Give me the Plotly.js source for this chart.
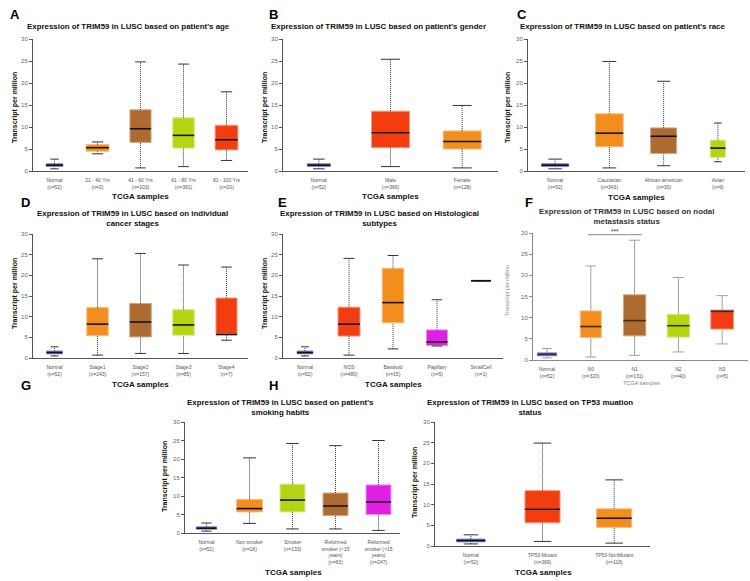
<!DOCTYPE html>
<html><head><meta charset="utf-8">
<script src="https://cdn.plot.ly/plotly-3.0.1.min.js"></script>
<style>html,body{margin:0;padding:0;background:#fff}#chart{width:750px;height:581px}</style>
</head><body><div id="chart"></div><script>
// ---------------- DATA ----------------
const ageCategories = ['Normal<br>(n=52)','21 - 40 Yrs<br>(n=2)','41 - 60 Yrs<br>(n=103)','61 - 80 Yrs<br>(n=361)','81 - 100 Yrs<br>(n=20)'];
const ageLower  = [0.5, 3.9, 0.7, 1.0, 2.4];
const ageQ1     = [1.0, 4.5, 6.5, 5.2, 4.8];
const ageMedian = [1.3, 5.3, 9.6, 8.1, 7.1];
const ageQ3     = [1.7, 6.0, 13.9, 12.1, 10.4];
const ageUpper  = [2.7, 6.6, 24.8, 24.3, 18.0];

const genderCategories = ['Normal<br>(n=52)','Male<br>(n=366)','Female<br>(n=128)'];
const genderLower  = [0.5, 1.0, 0.7];
const genderQ1     = [1.0, 5.3, 5.0];
const genderMedian = [1.3, 8.7, 6.7];
const genderQ3     = [1.7, 13.6, 9.1];
const genderUpper  = [2.7, 25.4, 14.9];

const raceCategories = ['Normal<br>(n=52)','Caucasian<br>(n=343)','African-american<br>(n=30)','Asian<br>(n=9)'];
const raceLower  = [0.5, 0.7, 1.2, 2.1];
const raceQ1     = [1.0, 5.5, 4.0, 3.1];
const raceMedian = [1.3, 8.6, 7.9, 5.2];
const raceQ3     = [1.7, 13.0, 9.8, 7.0];
const raceUpper  = [2.7, 24.9, 20.4, 10.9];

const stageCategories = ['Normal<br>(n=52)','Stage1<br>(n=243)','Stage2<br>(n=157)','Stage3<br>(n=85)','Stage4<br>(n=7)'];
const stageLower  = [0.5, 0.7, 1.1, 1.1, 4.3];
const stageQ1     = [1.0, 5.4, 5.1, 5.5, 5.6];
const stageMedian = [1.3, 8.2, 8.7, 8.0, 5.7];
const stageQ3     = [1.7, 12.2, 13.2, 11.7, 14.5];
const stageUpper  = [2.7, 24.0, 25.3, 22.5, 22.0];

const histCategories = ['Normal<br>(n=52)','NOS<br>(n=480)','Basaloid<br>(n=15)','Papillary<br>(n=5)','SmallCell<br>(n=1)'];
const histLower  = [0.5, 0.7, 2.2, 2.9, 18.7];
const histQ1     = [1.0, 5.3, 8.5, 3.0, 18.7];
const histMedian = [1.3, 8.2, 13.4, 3.9, 18.7];
const histQ3     = [1.7, 12.3, 21.7, 6.8, 18.7];
const histUpper  = [2.7, 24.1, 24.8, 14.1, 18.7];

const nodalCategories = ['Normal<br>(n=52)','N0<br>(n=320)','N1<br>(n=131)','N2<br>(n=40)','N3<br>(n=5)'];
const nodalLower  = [0.5, 0.7, 1.1, 1.9, 3.8];
const nodalQ1     = [1.0, 5.3, 5.7, 5.4, 7.3];
const nodalMedian = [1.3, 7.9, 9.3, 8.1, 11.5];
const nodalQ3     = [1.7, 11.6, 15.4, 10.8, 11.8];
const nodalUpper  = [2.7, 22.2, 28.3, 19.5, 15.2];
const nodalSigPair  = [1, 2];
const nodalSigLabel = '***';

const smokeCategories = ['Normal<br>(n=52)','Non smoker<br>(n=18)','Smoker<br>(n=133)','Reformed<br>smoker (&lt;15<br>years)<br>(n=83)','Reformed<br>smoker (&gt;15<br>years)<br>(n=247)'];
const smokeLower  = [0.5, 2.6, 1.1, 1.1, 0.7];
const smokeQ1     = [1.0, 5.7, 5.7, 4.7, 5.0];
const smokeMedian = [1.3, 6.6, 8.9, 7.3, 8.4];
const smokeQ3     = [1.7, 9.1, 13.2, 10.8, 13.0];
const smokeUpper  = [2.7, 20.3, 24.2, 23.6, 25.0];

const tp53Categories = ['Normal<br>(n=52)','TP53-Mutant<br>(n=369)','TP53-NonMutant<br>(n=118)'];
const tp53Lower  = [0.5, 1.1, 0.7];
const tp53Q1     = [1.0, 5.6, 4.5];
const tp53Median = [1.3, 8.9, 6.7];
const tp53Q3     = [1.7, 13.4, 9.0];
const tp53Upper  = [2.7, 24.9, 16.0];

const yTicks = [0, 5, 10, 15, 20, 25, 30];

// ---------------- STYLE ----------------
const W = 750, H = 581;
const FONT = 'Liberation Sans, Arial, sans-serif';
const PAL = {
  blue:    {fill:'#3442ad', line:'#939ce0'},
  orange:  {fill:'#f28e1e', line:'#f7bf7c'},
  brown:   {fill:'#ad6a31', line:'#d4a57e'},
  lime:    {fill:'#b5d512', line:'#d8eb80'},
  red:     {fill:'#f23d11', line:'#f79b82'},
  magenta: {fill:'#e01fe4', line:'#ef8ef0'},
  none:    {fill:'rgba(0,0,0,0)', line:'#222'}
};

const panels = [
  {lo:ageLower, q1:ageQ1, md:ageMedian, q3:ageQ3, hi:ageUpper, cats:ageCategories,
   colors:['blue','orange','brown','lime','red'], widths:[0.39,0.53,0.49,0.5,0.53],
   px:[33,248], py:[39,171], xr:[-0.5,4.5]},
  {lo:genderLower, q1:genderQ1, md:genderMedian, q3:genderQ3, hi:genderUpper, cats:genderCategories,
   colors:['blue','red','orange'], widths:[0.32,0.53,0.53],
   px:[283,498], py:[39,171], xr:[-0.5,2.5]},
  {lo:raceLower, q1:raceQ1, md:raceMedian, q3:raceQ3, hi:raceUpper, cats:raceCategories,
   colors:['blue','orange','brown','lime'], widths:[0.5,0.51,0.48,0.28],
   px:[528,745], py:[39,171], xr:[-0.5,3.5]},
  {lo:stageLower, q1:stageQ1, md:stageMedian, q3:stageQ3, hi:stageUpper, cats:stageCategories,
   colors:['blue','orange','brown','lime','red'], widths:[0.37,0.5,0.5,0.5,0.49],
   px:[33,248], py:[234,358], xr:[-0.5,4.5]},
  {lo:histLower, q1:histQ1, md:histMedian, q3:histQ3, hi:histUpper, cats:histCategories,
   colors:['blue','red','orange','magenta','none'], widths:[0.36,0.5,0.49,0.48,0.45],
   px:[283,503], py:[234,358], xr:[-0.5,4.5]},
  {lo:nodalLower, q1:nodalQ1, md:nodalMedian, q3:nodalQ3, hi:nodalUpper, cats:nodalCategories,
   colors:['blue','orange','brown','lime','red'], widths:[0.44,0.48,0.51,0.51,0.52],
   px:[533,748], py:[233,360], xr:[-0.32,4.59], solidWhisker:true},
  {lo:smokeLower, q1:smokeQ1, md:smokeMedian, q3:smokeQ3, hi:smokeUpper, cats:smokeCategories,
   colors:['blue','orange','lime','brown','magenta'], widths:[0.47,0.6,0.58,0.58,0.58],
   px:[185,400], py:[422,533], xr:[-0.5,4.5]},
  {lo:tp53Lower, q1:tp53Q1, md:tp53Median, q3:tp53Q3, hi:tp53Upper, cats:tp53Categories,
   colors:['blue','red','orange'], widths:[0.4,0.49,0.49],
   px:[435,650], py:[422,546], xr:[-0.5,2.5]}
];

const traces = [];
const layout = {
  width: W, height: H, margin:{l:0,r:0,t:0,b:0},
  paper_bgcolor:'#fff', plot_bgcolor:'rgba(0,0,0,0)',
  showlegend:false, boxmode:'overlay', font:{family:FONT},
  annotations:[], shapes:[]
};

panels.forEach((p, k) => {
  const sfx = k === 0 ? '' : String(k + 1);
  const xa = 'x' + sfx, ya = 'y' + sfx;
  const idx = p.cats.map((_, i) => i);
  const whiskColor = p.solidWhisker ? '#a0a0a0' : '#3a3a3a';
  const capColor = p.solidWhisker ? '#a0a0a0' : '#333';

  // whiskers
  const wx = [], wy = [];
  idx.forEach(i => {
    wx.push(i, i, null, i, i, null);
    wy.push(p.lo[i], p.q1[i], null, p.q3[i], p.hi[i], null);
  });
  traces.push({type:'scatter', mode:'lines', x:wx, y:wy, xaxis:xa, yaxis:ya,
    line:{color:whiskColor, width:1, dash: p.solidWhisker ? 'solid' : '1px,1px'}, hoverinfo:'skip'});

  // boxes
  idx.forEach(i => {
    const c = PAL[p.colors[i]];
    traces.push({type:'box', x:[i], q1:[p.q1[i]], median:[p.md[i]], q3:[p.q3[i]],
      lowerfence:[p.q1[i]], upperfence:[p.q3[i]], width:p.widths[i], whiskerwidth:0,
      fillcolor:c.fill, line:{color:c.line, width:1}, xaxis:xa, yaxis:ya,
      boxpoints:false, hoverinfo:'skip'});
  });

  // caps
  const cx = [], cy = [];
  idx.forEach(i => {
    const h = p.widths[i] * 0.25;
    cx.push(i - h, i + h, null, i - h, i + h, null);
    cy.push(p.lo[i], p.lo[i], null, p.hi[i], p.hi[i], null);
  });
  traces.push({type:'scatter', mode:'lines', x:cx, y:cy, xaxis:xa, yaxis:ya,
    line:{color:capColor, width:1}, hoverinfo:'skip'});

  // medians
  const mx = [], my = [];
  idx.forEach(i => {
    const h = p.widths[i] / 2;
    mx.push(i - h, i + h, null);
    my.push(p.md[i], p.md[i], null);
  });
  traces.push({type:'scatter', mode:'lines', x:mx, y:my, xaxis:xa, yaxis:ya,
    line:{color: p.solidWhisker ? '#3a2e1e' : '#111', width:1.6}, hoverinfo:'skip'});

  layout['xaxis' + sfx] = {
    domain:[p.px[0]/W, p.px[1]/W], range:p.xr, anchor:ya,
    showline:true, linecolor: p.solidWhisker ? '#8a8a8a' : '#555', linewidth:1,
    showgrid:false, zeroline:false, fixedrange:true,
    tickmode:'array', tickvals:idx, ticktext:p.cats,
    ticks:'outside', ticklen:4, tickcolor:'rgba(0,0,0,0)',
    tickfont:{size:5, color:'#555', family:FONT}
  };
  layout['yaxis' + sfx] = {
    domain:[1 - p.py[1]/H, 1 - p.py[0]/H], range:[0,30], anchor:xa,
    showline:true, linecolor: p.solidWhisker ? '#8a8a8a' : '#555', linewidth:1,
    showgrid:false, zeroline:false, fixedrange:true,
    tickmode:'array', tickvals:yTicks,
    ticks:'outside', ticklen:3, tickcolor: p.solidWhisker ? '#8a8a8a' : '#555',
    tickfont:{size:6, color:'#666', family:FONT}
  };
});

// significance bar in nodal panel
layout.shapes.push({type:'line', xref:'x6', yref:'y6',
  x0:nodalSigPair[0] - 0.07, x1:nodalSigPair[1] + 0.17, y0:29.6, y1:29.6,
  line:{color:'#888', width:1}});
layout.annotations.push({xref:'x6', yref:'y6', x:(nodalSigPair[0] + nodalSigPair[1]) / 2 + 0.05, y:29.6,
  yanchor:'middle', yshift:3.5, text:nodalSigLabel, showarrow:false, font:{size:6.5, color:'#333', family:FONT}});

const P = (x, y) => ({xref:'paper', yref:'paper', x:x/W, y:1 - y/H, xanchor:'center', yanchor:'middle', showarrow:false});
const addText = (x, y, text, font, extra) => layout.annotations.push(Object.assign(P(x, y), {text, font:Object.assign({family:FONT}, font)}, extra || {}));

// panel letters
[['A',14.5,14.5],['B',273,14.5],['C',522,14.5],['D',25,202],['E',282.5,202],['F',529,202],['G',26,385],['H',273,385]]
  .forEach(([t,x,y]) => addText(x, y, '<b>' + t + '</b>', {size:13, color:'#000'}));

// titles
const tf = {size:7.9, color:'#111'};
addText(128, 27, "<b>Expression of TRIM59 in LUSC based on patient's age</b>", tf);
addText(378, 27, "<b>Expression of TRIM59 in LUSC based on patient's gender</b>", tf);
addText(622, 27, "<b>Expression of TRIM59 in LUSC based on patient's race</b>", tf);
addText(132, 218.5, "<b>Expression of TRIM59 in LUSC based on individual<br>cancer stages</b>", tf);
addText(379, 218.5, "<b>Expression of TRIM59 in LUSC based on Histological<br>subtypes</b>", tf);
addText(626, 216.5, "<b>Expression of TRIM59 in LUSC based on nodal<br>metastasis status</b>", {size:7.9, color:'#333'});
addText(280, 407.5, "<b>Expression of TRIM59 in LUSC based on patient's<br>smoking habits</b>", tf);
addText(530, 407.5, "<b>Expression of TRIM59 in LUSC based on TP53 muation<br>status</b>", tf);

// y titles
const yf = {size:7, color:'#111'};
[[15,108],[265,108],[508,108],[15,294],[265,294],[165,477],[415,483]]
  .forEach(([x,y]) => addText(x, y, '<b>Transcript per million</b>', yf, {textangle:-90}));
addText(507, 291, 'Transcript per million', {size:5.5, color:'#888'}, {textangle:-90});

// x titles
const xf = {size:8, color:'#111'};
[[140,196],[390,196],[636,197],[140,384],[393,384],[293,572],[543,572]]
  .forEach(([x,y]) => addText(x, y, '<b>TCGA samples</b>', xf));
addText(641, 383, 'TCGA samples', {size:5.5, color:'#888'});

Plotly.newPlot('chart', traces, layout, {staticPlot:true, displayModeBar:false});
</script></body></html>
